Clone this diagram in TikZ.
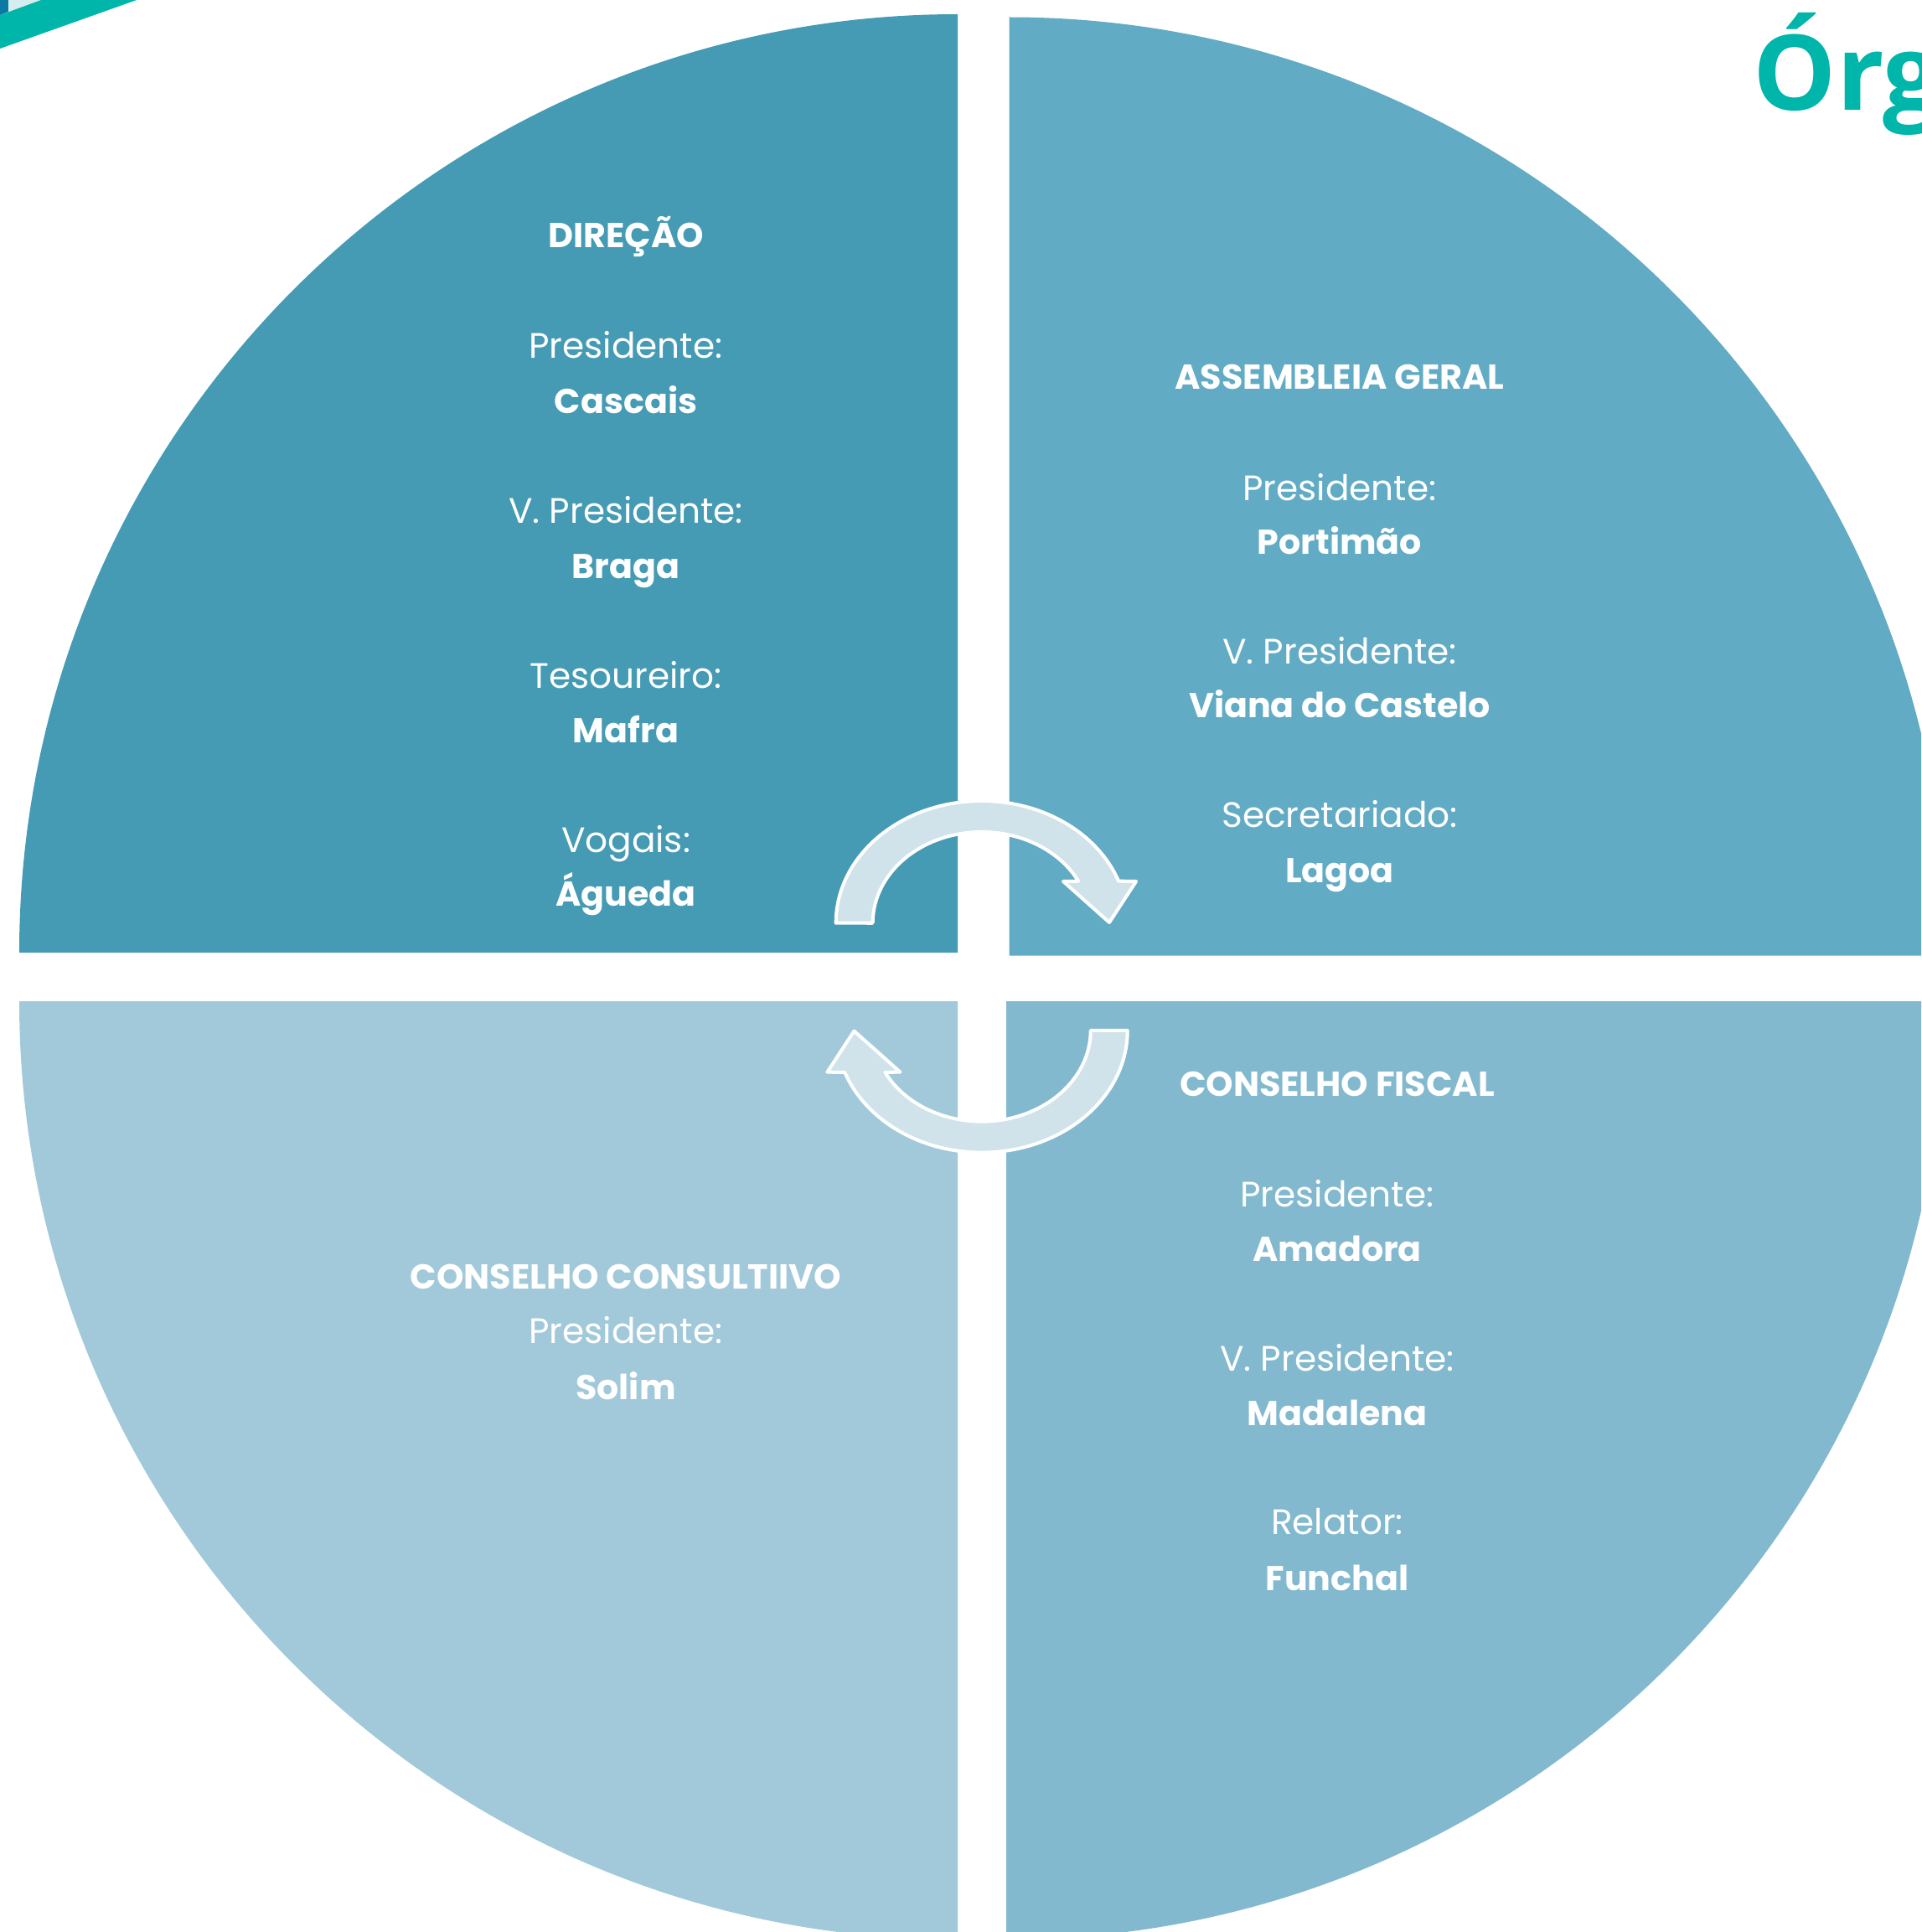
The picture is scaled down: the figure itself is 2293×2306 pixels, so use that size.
\documentclass[tikz,border=0pt]{standalone}
\usepackage{fontspec}
\setmainfont{Poppins}
\newfontfamily\titlefont{Open Sans}

\definecolor{direcao}{RGB}{69,154,180}
\definecolor{assembleia}{RGB}{98,171,196}
\definecolor{consultivo}{RGB}{162,201,218}
\definecolor{fiscal}{RGB}{130,185,206}
\definecolor{arrowfill}{RGB}{208,226,234}
\definecolor{teal}{RGB}{0,181,169}
\definecolor{deepblue}{RGB}{10,122,162}
\definecolor{paleblue}{RGB}{214,237,240}

\tikzset{
  role/.style={text=white, inner sep=0pt, anchor=base,
    font=\fontsize{12.0}{15}\selectfont},
  who/.style={role, font=\fontsize{11.7}{15}\selectfont\bfseries},
  head/.style={role, font=\fontsize{11.75}{14}\selectfont\bfseries},
  cyclearrow/.style={fill=arrowfill, draw=white, line width=1.15pt, line join=round}
}

\begin{document}
\begin{tikzpicture}[x=0.01cm, y=0.01cm]

    \useasboundingbox (0,0) rectangle (2293,-2306);
    \clip (0,0) rectangle (2293,-2306);

    % Corner stripes
    \fill[deepblue] (0,0) -- (10,0) -- (10,-14) -- (0,-18) -- cycle;
    \fill[paleblue] (10,0) -- (49,0) -- (10,-14) -- cycle;
    \fill[teal] (0,-18) -- (49,0) -- (163,0) -- (0,-58) -- cycle;

    % Title
    \node[anchor=base west, inner sep=0pt, text=teal,
      font=\titlefont\fontsize{35.5}{40}\selectfont\bfseries] (title) at (2092,-132) {Órg};

    % Quarters
    \fill[direcao] (1143,-1137) -- (23,-1137) arc[start angle=180, end angle=90, radius=1120] -- cycle;
    \fill[assembleia] (1204.5,-1140.5) -- (1204.5,-20.5) arc[start angle=90, end angle=0, radius=1120] -- cycle;
    \fill[consultivo] (1143,-1195) -- (23,-1195) arc[start angle=180, end angle=270, radius=1120] -- cycle;
    \fill[fiscal] (1201,-1195) -- (1201,-2315) arc[start angle=270, end angle=360, radius=1120] -- cycle;

    % Arrows
    \path[cyclearrow] (997.7,-1101.7)
      arc[start angle=180, end angle=20.1, x radius=174, y radius=145.7]
      -- (1356,-1052) -- (1324,-1101) -- (1269,-1052) -- (1287.1,-1051.7)
      arc[start angle=27.4, end angle=180, x radius=130, y radius=108.7] -- cycle;
    \begin{scope}[rotate around={180:(1171.7,-1165.8)}]
        \path[cyclearrow] (997.7,-1101.7)
          arc[start angle=180, end angle=20.1, x radius=174, y radius=145.7]
          -- (1356,-1052) -- (1324,-1101) -- (1269,-1052) -- (1287.1,-1051.7)
          arc[start angle=27.4, end angle=180, x radius=130, y radius=108.7] -- cycle;
    \end{scope}

    % Direcao
    \node[head] (dir) at (747,-295) {DIREÇÃO};
    \node[role] (dir-p) at (747,-427) {Presidente:};
    \node[who] (dir-pn) at (747,-493) {Cascais};
    \node[role] (dir-v) at (747,-624) {V. Presidente:};
    \node[who] (dir-vn) at (747,-690) {Braga};
    \node[role] (dir-t) at (747,-821) {Tesoureiro:};
    \node[who] (dir-tn) at (747,-886) {Mafra};
    \node[role] (dir-g) at (747,-1017) {Vogais:};
    \node[who] (dir-gn) at (747,-1081) {Águeda};

    % Assembleia Geral
    \node[head] (ag) at (1599,-464) {ASSEMBLEIA GERAL};
    \node[role] (ag-p) at (1599,-597) {Presidente:};
    \node[who] (ag-pn) at (1599,-661) {Portimão};
    \node[role] (ag-v) at (1599,-792) {V. Presidente:};
    \node[who] (ag-vn) at (1599,-856) {Viana do Castelo};
    \node[role] (ag-s) at (1599,-987) {Secretariado:};
    \node[who] (ag-sn) at (1599,-1053) {Lagoa};

    % Conselho Fiscal
    \node[head] (cf) at (1596,-1308) {CONSELHO FISCAL};
    \node[role] (cf-p) at (1596,-1440) {Presidente:};
    \node[who] (cf-pn) at (1596,-1505) {Amadora};
    \node[role] (cf-v) at (1596,-1636) {V. Presidente:};
    \node[who] (cf-vn) at (1596,-1701) {Madalena};
    \node[role] (cf-r) at (1596,-1831) {Relator:};
    \node[who] (cf-rn) at (1596,-1898) {Funchal};

    % Conselho Consultivo
    \node[head] (cc) at (747,-1538) {CONSELHO CONSULTIIVO};
    \node[role] (cc-p) at (747,-1603) {Presidente:};
    \node[who] (cc-pn) at (747,-1670) {Solim};

\end{tikzpicture}
\end{document}
